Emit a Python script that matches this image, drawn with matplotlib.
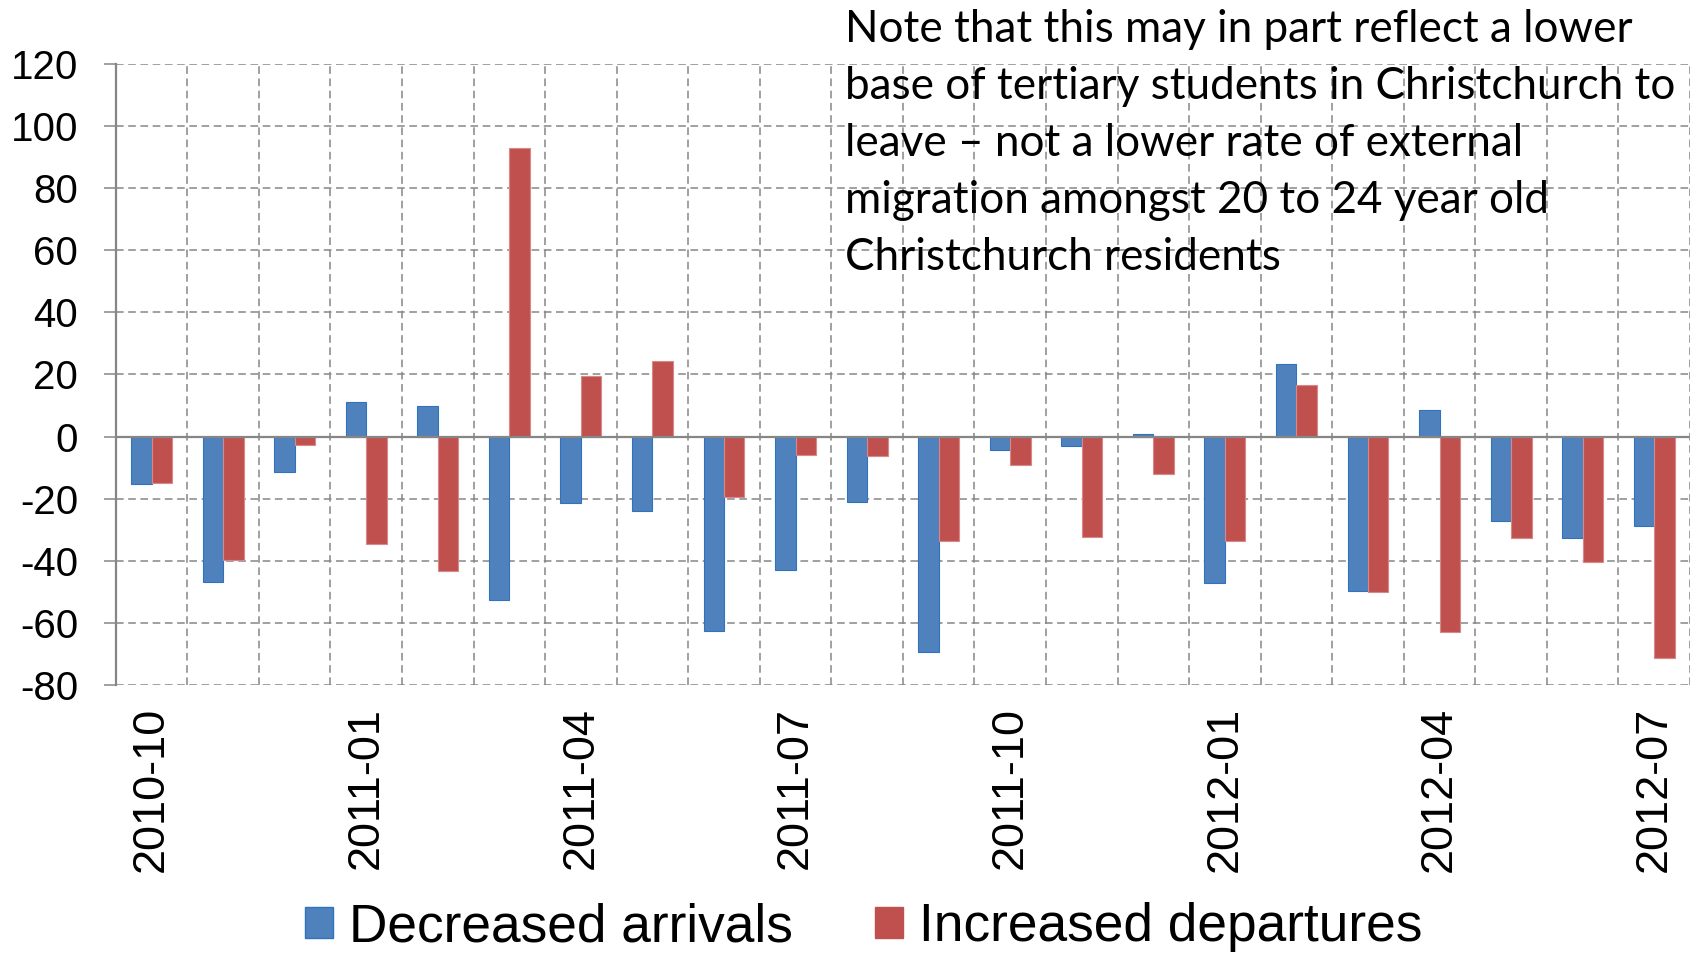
import numpy as np
import matplotlib
matplotlib.use('Agg')
import matplotlib.pyplot as plt
from matplotlib.patches import Patch

# Monthly change vs. pre-quake baseline, 20-24 year olds, Christchurch
months = ['2010-10', '2010-11', '2010-12', '2011-01', '2011-02', '2011-03',
          '2011-04', '2011-05', '2011-06', '2011-07', '2011-08', '2011-09',
          '2011-10', '2011-11', '2011-12', '2012-01', '2012-02', '2012-03',
          '2012-04', '2012-05', '2012-06', '2012-07']
arrivals = [-15.4, -46.7, -11.5, 11.0, 9.9, -52.6, -21.4, -24.0, -62.6, -43.1, -21.0,
            -69.5, -4.2, -3.1, 0.8, -47.3, 23.3, -49.7, 8.4, -27.2, -32.8, -28.7]
departures = [-14.8, -39.6, -2.8, -34.7, -43.4, 93.1, 19.4, 24.3, -19.6, -6.0, -6.4,
              -33.5, -9.1, -32.5, -12.1, -33.7, 16.5, -50.1, -63.1, -32.8, -40.4, -71.3]
shown_labels = ['2010-10', '2011-01', '2011-04', '2011-07', '2011-10',
                '2012-01', '2012-04', '2012-07']

note = ('Note that this may in part reflect a lower\n'
        'base of tertiary students in Christchurch to\n'
        'leave \u2013 not a lower rate of external\n'
        'migration amongst 20 to 24 year old\n'
        'Christchurch residents')

blue = '#4F81BD'
red = '#C0504D'
grey = '#868686'

plt.rcParams['font.family'] = ['Liberation Sans', 'DejaVu Sans']
plt.rcParams['axes.unicode_minus'] = False

fig = plt.figure(figsize=(17, 9.58), dpi=100)
ax = fig.add_axes([0.0681, 0.285, 0.926, 0.6482])

x = np.arange(len(months))
w = 0.286
ax.bar(x - w / 2, arrivals, w, color=blue, edgecolor='#2F73BE', linewidth=0.8, zorder=3)
ax.bar(x + w / 2, departures, w, color=red, edgecolor='#D9888A', linewidth=0.8, zorder=3)

ax.set_xlim(-0.5, len(months) - 0.5)
ax.set_ylim(-80, 120)
ax.set_yticks(np.arange(-80, 121, 20))

# category labels every third month
ax.set_xticks([months.index(m) for m in shown_labels])
ax.set_xticklabels(shown_labels, rotation=90, va='top', ha='center')
ax.set_xticks(np.arange(-0.5, len(months), 1), minor=True)

dash = (0, (5, 3))
ax.grid(which='major', axis='y', color=grey, linestyle=dash, linewidth=1.1, zorder=0)
ax.grid(which='minor', axis='x', color=grey, linestyle=dash, linewidth=1.1, zorder=0)
ax.grid(which='major', axis='x', visible=False)
ax.set_axisbelow(True)

ax.axhline(0, color=grey, linewidth=1.6, zorder=4)

for side in ['top', 'right', 'bottom']:
    ax.spines[side].set_visible(False)
ax.spines['left'].set_color(grey)
ax.spines['left'].set_linewidth(1.6)

ax.tick_params(axis='y', length=9, width=1.1, color=grey, pad=18, labelsize=29)
ax.tick_params(axis='x', which='both', length=0, pad=16, labelsize=32.5)

fig.text(0.497, 0.991, note, ha='left', va='top', fontsize=31.7,
         family=['Lato', 'DejaVu Sans'], linespacing=1.49)

handles = [Patch(facecolor=blue, edgecolor='#2F73BE', label='Decreased arrivals'),
           Patch(facecolor=red, edgecolor=red, label='Increased departures')]
fig.legend(handles=handles, loc='center', bbox_to_anchor=(0.508, 0.032), ncol=2,
           frameon=False, fontsize=38.3, handlelength=0.52, handleheight=0.5,
           handletextpad=0.3, columnspacing=1.55)

fig.savefig('out.png', dpi=100)
